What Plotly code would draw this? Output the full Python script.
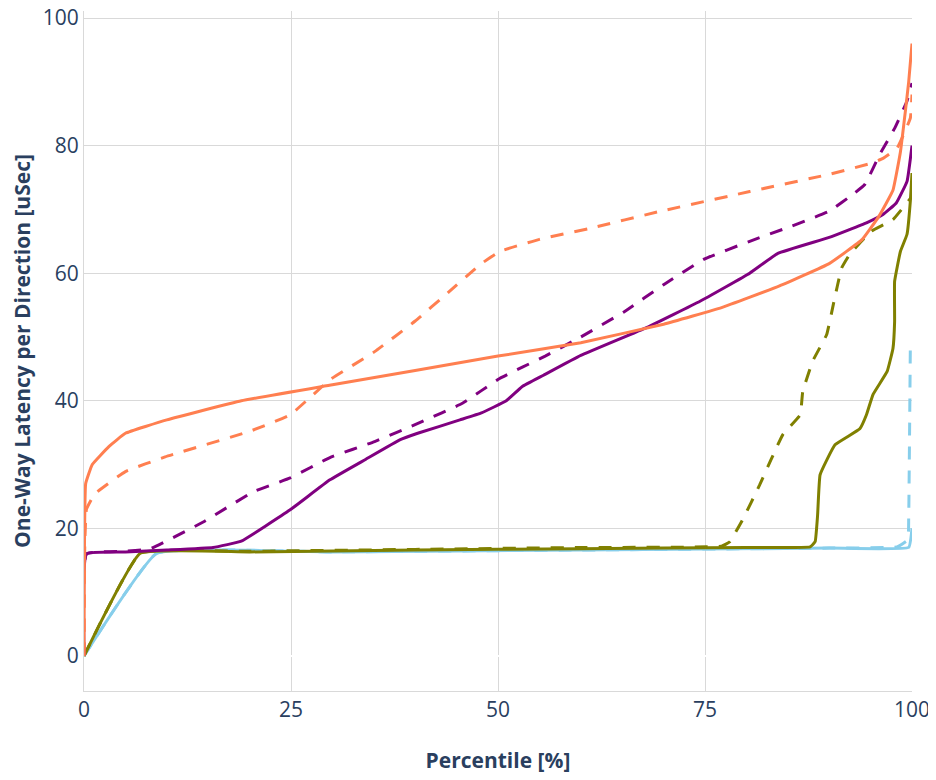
import plotly.graph_objects as go

# Orange (coral)
orange_solid_x = [0, 0.05, 0.2, 1, 3, 5, 10, 19, 30, 50, 60, 70, 77, 84, 90, 94, 96, 97.7, 98.6, 99.2, 99.6, 100]
orange_solid_y = [0, 16, 27, 30, 32.8, 34.9, 37, 40, 42.5, 47, 49.1, 52, 54.6, 58, 61.5, 65.3, 68.9, 73, 79, 85.4, 90, 96]
orange_dash_x = [0, 0.1, 0.3, 1.3, 5, 9.8, 20, 24.9, 29.7, 35.1, 40, 44, 48, 50.2, 55, 61, 69.6, 80.4, 90, 95, 96.5, 98.2, 99.8, 100]
orange_dash_y = [0, 18, 23, 25.4, 28.9, 31.2, 35.2, 37.8, 43.3, 47.7, 52.5, 57, 61.5, 63.4, 65.3, 67, 69.7, 72.8, 75.5, 77.2, 78, 79.6, 84.3, 88]

# Purple
purple_solid_x = [0, 0.3, 5, 10, 15.6, 19, 24.9, 29.7, 34, 38.2, 40.3, 45.4, 48, 51, 52.9, 55.5, 60, 68, 74.4, 80.4, 83.8, 90, 94.5, 96.5, 98.1, 99.4, 100]
purple_solid_y = [0, 16, 16.3, 16.6, 17, 18, 22.9, 27.6, 30.8, 33.9, 34.9, 37, 38.1, 40, 42.2, 44, 47.1, 51.5, 55.6, 60, 63.1, 65.6, 67.9, 69.2, 71, 74.4, 80]
purple_dash_x = [0, 0.3, 5, 8, 14.4, 20.4, 24.9, 29.7, 35.1, 40.6, 45.7, 50.2, 55.7, 60, 65.3, 70, 74.9, 80.4, 85.3, 90, 93, 94.3, 96.1, 97.9, 99.4, 100]
purple_dash_y = [0, 16, 16.4, 16.8, 21, 25.7, 27.9, 31.1, 33.6, 36.6, 39.6, 43.5, 47, 50, 54, 58.2, 62.2, 65, 67.3, 69.7, 72.5, 73.9, 78.6, 82.7, 87, 89.8]

# Olive
olive_solid_x = [0, 6.8, 20, 40, 60, 80, 87.7, 88.3, 88.6, 88.9, 90.7, 93.7, 94.5, 95.3, 97, 97.7, 97.9, 97.9, 98.6, 99.4, 99.8, 100]
olive_solid_y = [0, 16.1, 16.3, 16.6, 16.8, 17, 17.1, 17.9, 22.1, 28.4, 33.1, 35.6, 37.8, 41, 44.6, 48.2, 52.4, 58.7, 63.4, 66.1, 71.3, 75.7]
olive_dash_x = [0, 6.8, 20, 40, 60, 77, 78, 79.6, 81.6, 84.4, 86.5, 86.8, 88, 89.7, 90.5, 91.5, 92.5, 95.1, 97.7, 99.8, 100]
olive_dash_y = [0, 16.1, 16.4, 16.7, 17, 17.2, 17.9, 21.5, 26.8, 34.7, 37.8, 41.4, 46.2, 50.4, 55.1, 60.8, 63, 66.6, 68.4, 71.7, 72]

# Sky blue
blue_solid_x = [0, 8.8, 30, 60, 90, 99.6, 100]
blue_solid_y = [0, 16.1, 16.3, 16.6, 16.9, 17, 20]
blue_dash_x = [0, 8.8, 30, 60, 90, 98.2, 99.5, 99.6, 99.8]
blue_dash_y = [0, 16.1, 16.3, 16.6, 16.9, 17.1, 18.2, 21.5, 48.5]

C_ORANGE = "#FF7F50"
C_PURPLE = "#800080"
C_OLIVE = "#808000"
C_BLUE = "#87CEEB"

DASH = "13px,11px"

series = [
    (blue_dash_x, blue_dash_y, C_BLUE, DASH),
    (blue_solid_x, blue_solid_y, C_BLUE, "solid"),
    (olive_dash_x, olive_dash_y, C_OLIVE, DASH),
    (olive_solid_x, olive_solid_y, C_OLIVE, "solid"),
    (purple_dash_x, purple_dash_y, C_PURPLE, DASH),
    (purple_solid_x, purple_solid_y, C_PURPLE, "solid"),
    (orange_dash_x, orange_dash_y, C_ORANGE, DASH),
    (orange_solid_x, orange_solid_y, C_ORANGE, "solid"),
]

fig = go.Figure()
for xs, ys, col, dash in series:
    fig.add_trace(go.Scatter(x=xs, y=ys, mode="lines",
                             line=dict(color=col, width=3, dash=dash, shape="spline", smoothing=0.3),
                             showlegend=False, hoverinfo="skip"))

axis_common = dict(
    showgrid=True, gridcolor="#d9d9d9", gridwidth=1,
    showline=True, linecolor="#d9d9d9", linewidth=1,
    zeroline=True, zerolinecolor="white", zerolinewidth=2,
    tickfont=dict(size=21, color="#2a3f5f"),
    ticks="", automargin=False, ticklabeloverflow="allow",
)

fig.update_layout(
    template="plotly_white",
    width=936, height=780,
    margin=dict(l=76, r=32, t=3, b=97),
    font=dict(family="Open Sans", color="#2a3f5f"),
    plot_bgcolor="white", paper_bgcolor="white",
    xaxis=dict(range=[0, 100], tickvals=[0, 25, 50, 75, 100],
               title=dict(text="<b>Percentile [%]</b>", font=dict(size=21), standoff=31),
               **axis_common),
    yaxis=dict(range=[-5.5, 101.1], tickvals=[0, 20, 40, 60, 80, 100],
               title=dict(text="<b>One-Way Latency per Direction [uSec]</b>", font=dict(size=21)),
               **axis_common),
)

fig.write_html("out.html")
